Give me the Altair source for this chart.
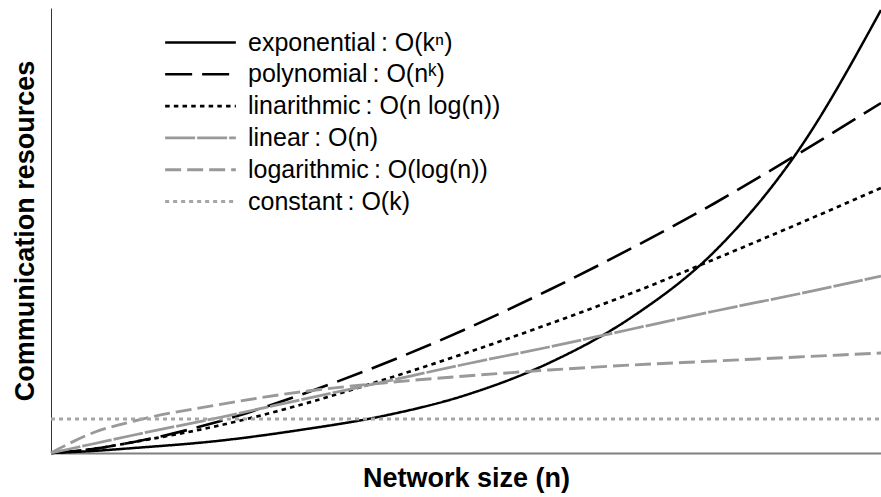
import altair as alt
import pandas as pd

# ---- data (x = relative network size 0..1) ----
x_vals = [0, 0.05, 0.1, 0.2, 0.3, 0.4, 0.5, 0.6, 0.7, 0.8, 0.9, 1.0]
exponential = [0, 2, 5, 12, 23, 37, 58, 90, 136, 202, 302, 443]
polynomial = [0, 4, 11, 31, 58, 89, 124, 163, 205, 250, 299, 350]
linarithmic = [0, 4, 11, 27, 48, 73, 100, 129, 160, 194, 229, 265]
linear = [0, 9, 18, 35, 53, 71, 89, 106, 124, 142, 159, 177]
logarithmic = [0, 20, 32, 48, 61, 70, 77, 83, 88, 92, 96, 100]
constant = [34, 34, 34, 34, 34, 34, 34, 34, 34, 34, 34, 34]

series_labels = [
    "exponential\u2009: O(k\u207f)",
    "polynomial\u2009: O(n\u1d4f)",
    "linarithmic\u2009: O(n log(n))",
    "linear\u2009: O(n)",
    "logarithmic\u2009: O(log(n))",
    "constant\u2009: O(k)",
]
series_values = [exponential, polynomial, linarithmic, linear, logarithmic, constant]

colors = ["#000000", "#000000", "#000000", "#999999", "#999999", "#a6a6a6"]
dashes = [[1, 0], [27, 10], [4.5, 4.2], [30, 2], [16, 6], [4, 4]]
widths = [2.5, 3, 3, 2, 2, 1]

rows = []
for lab, vals in zip(series_labels, series_values):
    for xv, yv in zip(x_vals, vals):
        rows.append({"n": xv, "r": yv, "series": lab})
df = pd.DataFrame(rows)

leg = alt.Legend(
    title=None,
    orient="none",
    legendX=137,
    legendY=22,
    symbolType="M-5,0L5,0",
    symbolSize=200,
    labelOffset=35,
    labelFontSize=25,
    labelFont="Liberation Sans",
    labelColor="#000000",
    rowPadding=5.8,
    padding=0,
    labelLimit=500,
)

chart = alt.Chart(df).mark_line(interpolate="monotone", strokeCap="butt").encode(
    x=alt.X("n:Q", scale=alt.Scale(domain=[0, 1], nice=False, zero=True),
            axis=alt.Axis(title="Network size (n)", ticks=False, labels=False, grid=False,
                          domainColor="#808080", domainWidth=2, titlePadding=12)),
    y=alt.Y("r:Q", scale=alt.Scale(domain=[0, 445], nice=False, zero=True),
            axis=alt.Axis(title="Communication resources", ticks=False, labels=False, grid=False,
                          domainColor="#333333", domainWidth=1, titlePadding=12)),
    color=alt.Color("series:N", scale=alt.Scale(domain=series_labels, range=colors), legend=leg),
    strokeDash=alt.StrokeDash("series:N", scale=alt.Scale(domain=series_labels, range=dashes), legend=leg),
    strokeWidth=alt.StrokeWidth("series:N", scale=alt.Scale(domain=series_labels, range=widths), legend=leg),
).properties(
    width=830,
    height=445,
    autosize=alt.AutoSizeParams(type="none"),
    padding={"left": 51, "top": 8, "right": 0, "bottom": 44},
).configure(
    font="Liberation Sans",
).configure_view(
    stroke=None,
).configure_axis(
    titleFontSize=27,
    titleFontWeight="bold",
    titleColor="#000000",
    titleFont="Liberation Sans",
)

chart.save("out.html", embed_options={"renderer": "svg", "actions": False})
